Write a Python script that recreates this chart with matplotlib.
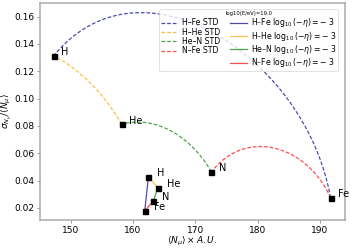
import numpy as np
import matplotlib
matplotlib.use("Agg")
import matplotlib.pyplot as plt

# Primaries: mean muon number (A.U.) and relative std, log10(E/eV)=19.0
primaries = ["H", "He", "N", "Fe"]
mean_std = [147.3, 158.2, 172.6, 191.7]
rel_std = [0.1314, 0.0812, 0.0464, 0.0274]

# log10(-eta) = -3 case
mean_eta = [162.5, 164.0, 163.3, 161.9]
rel_eta = [0.0428, 0.0347, 0.0252, 0.0179]

pairs = [("H", "Fe"), ("H", "He"), ("He", "N"), ("N", "Fe")]
pair_colors = ["darkblue", "orange", "green", "red"]


def mixture_curve(m1, r1, m2, r2, n=200):
    f = np.linspace(0, 1, n)
    s1, s2 = m1 * r1, m2 * r2
    mean = f * m1 + (1 - f) * m2
    var = f * s1**2 + (1 - f) * s2**2 + f * (1 - f) * (m1 - m2) ** 2
    return mean, np.sqrt(var) / mean


fig = plt.figure(figsize=(3.57, 2.49), dpi=100)
ax = fig.add_axes([0.112, 0.1165, 0.854, 0.8715])

idx = {p: i for i, p in enumerate(primaries)}
std_handles = []
eta_handles = []
for (a, b), c in zip(pairs, pair_colors):
    i, j = idx[a], idx[b]
    mx, my = mixture_curve(mean_std[i], rel_std[i], mean_std[j], rel_std[j])
    h, = ax.plot(mx, my, ls="--", color=c, alpha=0.7, lw=0.9,
                 dashes=(3, 1.5), label=f"{a}\u2013{b} STD")
    std_handles.append(h)
for (a, b), c in zip(pairs, pair_colors):
    i, j = idx[a], idx[b]
    h, = ax.plot([mean_eta[i], mean_eta[j]], [rel_eta[i], rel_eta[j]],
                 ls="-", color=c, alpha=0.7, lw=0.9,
                 label=f"{a}\u2013{b} $\\log_{{10}}(-\\eta) = -\\ 3$")
    eta_handles.append(h)

ax.plot(mean_std, rel_std, "s", color="black", ms=3.6, zorder=5)
ax.plot(mean_eta, rel_eta, "s", color="black", ms=3.6, zorder=5)
for k, p in enumerate(primaries):
    ax.annotate(p, (mean_std[k], rel_std[k]), xytext=(5.5, 2.5),
                textcoords="offset points", ha="left", va="center", fontsize=7)
    ax.annotate(p, (mean_eta[k], rel_eta[k]), xytext=(6.5, 3),
                textcoords="offset points", ha="left", va="center", fontsize=7)

ax.set_xlim(145.1, 194.0)
ax.set_ylim(0.0112, 0.170)
ax.set_xticks([150, 160, 170, 180, 190])
ax.set_yticks([0.02, 0.04, 0.06, 0.08, 0.10, 0.12, 0.14, 0.16])
ax.tick_params(labelsize=6.5, length=2.5, width=0.6, color="#888888", pad=1.5)
for s in ax.spines.values():
    s.set_color("#aaaaaa")
    s.set_linewidth(1.1)
ax.set_xlabel(r"$\langle N_\mu \rangle \times A.U.$", fontsize=6.5, labelpad=0.5)
ax.set_ylabel(r"$\sigma_{N_\mu}/\langle N_\mu \rangle$", fontsize=6.5, labelpad=0.5)

leg = ax.legend(handles=std_handles + eta_handles, ncol=2, loc="upper right",
                fontsize=5.6, title="log10(E/eV)=19.0", title_fontsize=3.8,
                handlelength=2.2, handletextpad=0.5, columnspacing=1.2,
                labelspacing=0.04, borderpad=0.25, framealpha=0.8,
                bbox_to_anchor=(0.99, 0.99))
leg.get_frame().set_linewidth(0.5)

fig.savefig("out.png", dpi=100)
